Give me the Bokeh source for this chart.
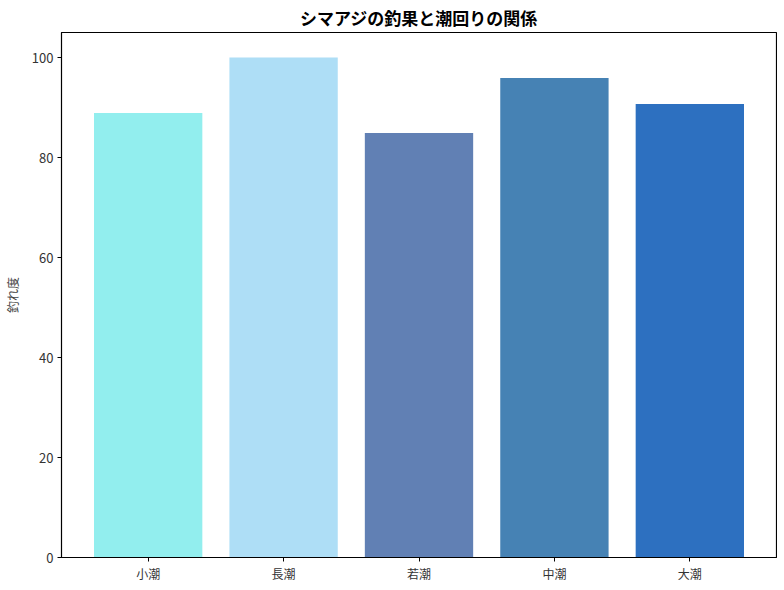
from bokeh.plotting import figure
from bokeh.models import ColumnDataSource, FactorRange, Range1d, FixedTicker
from bokeh.embed import file_html
from bokeh.resources import INLINE

categories = ["小潮", "長潮", "若潮", "中潮", "大潮"]
values = [88.9, 100.0, 84.9, 95.9, 90.7]
colors = ["#92EEEE", "#AEDEF6", "#6180B4", "#4682B4", "#2D70C0"]
y_ticks = [0, 20, 40, 60, 80, 100]

FONT = "Noto Sans CJK JP"

src = ColumnDataSource(dict(cat=categories, val=values, color=colors))

p = figure(
    x_range=FactorRange(factors=categories, range_padding=0.056),
    y_range=Range1d(0, 105),
    frame_width=715, frame_height=525,
    output_backend="svg", toolbar_location=None,
    title="シマアジの釣果と潮回りの関係",
    min_border_left=52, min_border_right=1, min_border_top=24, min_border_bottom=0,
)
p.vbar(x="cat", top="val", width=0.8, fill_color="color", line_color=None, source=src)

p.title.align = "center"
p.title.text_font = FONT
p.title.text_font_size = "17px"
p.title.text_font_style = "bold"
p.title.text_color = "#000000"
p.title.standoff = 5
p.title.offset = 0

p.xgrid.visible = False
p.ygrid.visible = False
p.outline_line_color = "#000000"
p.outline_line_width = 1.2

for ax in (p.xaxis[0], p.yaxis[0]):
    ax.axis_line_color = "#000000"
    ax.major_tick_line_color = "#000000"
    ax.major_tick_in = 0
    ax.major_tick_out = 4
    ax.minor_tick_line_color = None
    ax.major_label_text_font = FONT
    ax.major_label_text_color = "#333333"

p.xaxis[0].major_label_text_font_size = "12px"
p.yaxis[0].major_label_text_font_size = "13px"
p.yaxis[0].major_label_standoff = 4
p.yaxis[0].ticker = FixedTicker(ticks=y_ticks)
p.yaxis[0].axis_label = "釣れ度"
p.yaxis[0].axis_label_text_font = FONT
p.yaxis[0].axis_label_text_font_size = "12px"
p.yaxis[0].axis_label_text_font_style = "normal"
p.yaxis[0].axis_label_text_color = "#444444"
p.yaxis[0].axis_label_standoff = 8
p.xaxis[0].major_label_standoff = 3

open("out.html", "w").write(file_html(p, INLINE))
